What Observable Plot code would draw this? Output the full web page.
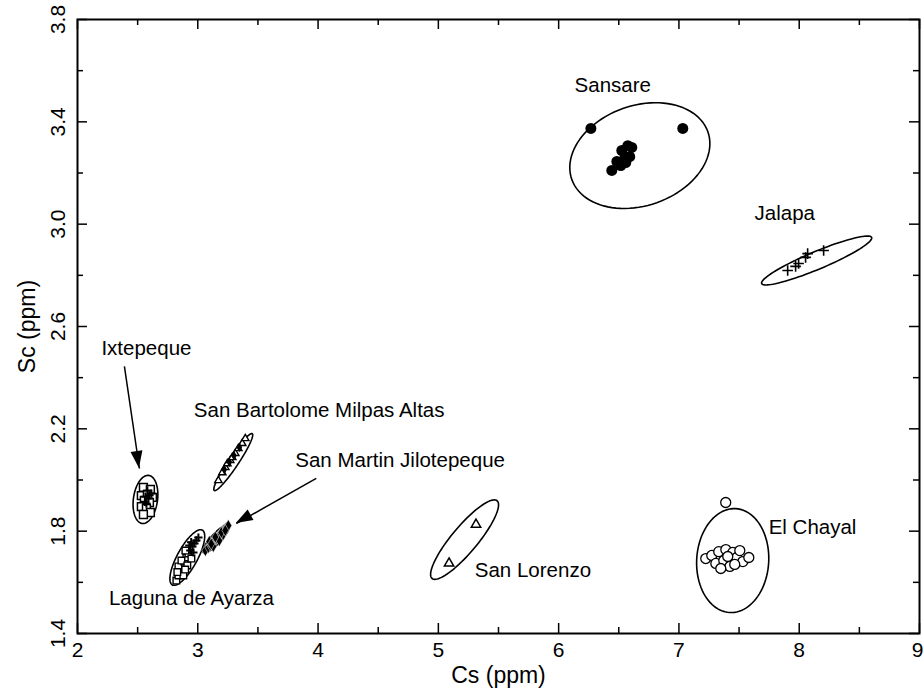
<!DOCTYPE html>
<html><head><meta charset="utf-8">
<script src="https://cdn.jsdelivr.net/npm/d3@7"></script>
<script src="https://cdn.jsdelivr.net/npm/@observablehq/plot@0.6"></script>
<style>body{margin:0;background:#fff}</style>
</head><body><div id="chart"></div>
<script>
// ---- axis ticks ----
const xTicksMajor = [2, 3, 4, 5, 6, 7, 8, 9];
const xTicksMinor = [2.5, 3.5, 4.5, 5.5, 6.5, 7.5, 8.5];
const yTicksMajor = [1.4, 1.8, 2.2, 2.6, 3.0, 3.4, 3.8];
const yTickLabels = ["1.4", "1.8", "2.2", "2.6", "3.0", "3.4", "3.8"];
const yTicksMinor = [1.6, 2.0, 2.4, 2.8, 3.2, 3.6];

// ---- samples: Cs (ppm) and Sc (ppm) ----
const sansareCs = [6.268, 7.032, 6.575, 6.608, 6.525, 6.591, 6.550, 6.484, 6.517, 6.442, 6.558];
const sansareSc = [3.374, 3.374, 3.307, 3.300, 3.288, 3.264, 3.257, 3.245, 3.229, 3.210, 3.241];

const jalapaCs = [7.904, 7.970, 7.995, 8.053, 8.070, 8.203];
const jalapaSc = [2.819, 2.835, 2.846, 2.870, 2.885, 2.897];

const chayalCs = [7.389, 7.223, 7.273, 7.307, 7.331, 7.373, 7.390, 7.423, 7.448, 7.481, 7.506, 7.531, 7.581, 7.348, 7.464, 7.406];
const chayalSc = [1.912, 1.693, 1.705, 1.674, 1.720, 1.685, 1.728, 1.662, 1.717, 1.697, 1.724, 1.681, 1.697, 1.654, 1.670, 1.701];

const lorenzoCs = [5.313, 5.089];
const lorenzoSc = [1.826, 1.674];

const ixtSqCs = [2.548, 2.606, 2.531, 2.581, 2.623, 2.556, 2.598, 2.531, 2.573, 2.606, 2.548];
const ixtSqSc = [1.971, 1.963, 1.939, 1.943, 1.932, 1.920, 1.912, 1.896, 1.889, 1.873, 1.865];
const ixtPlCs = [2.581, 2.565, 2.590, 2.573, 2.614, 2.560, 2.598];
const ixtPlSc = [1.959, 1.935, 1.928, 1.908, 1.947, 1.915, 1.940];

const bartCs = [3.171, 3.204, 3.229, 3.246, 3.270, 3.287, 3.312, 3.337, 3.370, 3.395];
const bartSc = [1.998, 2.029, 2.049, 2.064, 2.076, 2.088, 2.104, 2.123, 2.143, 2.162];
const bartDarkCs = [3.220, 3.262, 3.300, 3.345];
const bartDarkSc = [2.041, 2.070, 2.096, 2.128];

const martinCs = [3.063, 3.088, 3.104, 3.121, 3.138, 3.154, 3.171, 3.187, 3.204, 3.221, 3.237, 3.254, 3.096, 3.179, 3.129, 3.212, 3.112, 3.146, 3.196, 3.229];
const martinSc = [1.724, 1.736, 1.744, 1.756, 1.763, 1.771, 1.779, 1.787, 1.799, 1.807, 1.814, 1.822, 1.760, 1.763, 1.740, 1.787, 1.750, 1.777, 1.795, 1.803];

const lagunaSqCs = [2.822, 2.839, 2.855, 2.872, 2.839, 2.888, 2.905, 2.864, 2.922, 2.897, 2.880, 2.913, 2.947, 2.830, 2.895];
const lagunaSqSc = [1.607, 1.627, 1.646, 1.662, 1.662, 1.681, 1.697, 1.685, 1.713, 1.724, 1.627, 1.666, 1.693, 1.640, 1.650];
const lagunaPlCs = [2.938, 2.955, 2.972, 2.930, 2.988, 3.005, 2.963, 2.945];
const lagunaPlSc = [1.724, 1.740, 1.752, 1.744, 1.764, 1.775, 1.717, 1.757];

// ---- group ellipses: centre and two conjugate semi-axes (data units) ----
const ellName = ["Sansare", "Jalapa", "El Chayal", "San Lorenzo", "Ixtepeque", "San Bartolome", "San Martin", "Laguna"];
const ellCx = [6.675, 8.145, 7.447, 5.218, 2.565, 3.295, 3.154, 2.913];
const ellCy = [3.268, 2.858, 1.685, 1.767, 1.924, 2.070, 1.771, 1.697];
const ellUx = [0.565, 0.457, 0.025, 0.270, 0.025, 0.158, 0.108, 0.125];
const ellUy = [0.094, 0.090, 0.203, 0.152, 0.094, 0.111, 0.055, 0.107];
const ellVx = [0.141, 0.029, 0.299, 0.083, 0.100, 0.035, 0.031, 0.073];
const ellVy = [-0.184, -0.032, -0.008, -0.032, -0.004, -0.011, -0.013, -0.019];

// ---- labels ----
const labelText = ["Sansare", "Jalapa", "Ixtepeque", "San Bartolome Milpas Altas", "San Martin Jilotepeque", "San Lorenzo", "El Chayal", "Laguna de Ayarza"];
const labelCs = [6.45, 7.88, 2.573, 4.009, 4.682, 5.786, 8.111, 2.947];
const labelSc = [3.542, 3.042, 2.514, 2.272, 2.076, 1.646, 1.814, 1.537];

// ---- arrows (tail -> tip) ----
const arrowX1 = [2.390, 3.985];
const arrowY1 = [2.444, 2.006];
const arrowX2 = [2.515, 3.320];
const arrowY2 = [2.045, 1.830];

// ---- build tables ----
const pts = (xs, ys) => xs.map((x, i) => ({x, y: ys[i]}));
const ellPts = [];
ellName.forEach((name, i) => {
  for (let k = 0; k < 96; k++) {
    const t = 2 * Math.PI * k / 96;
    ellPts.push({name,
      x: ellCx[i] + ellUx[i] * Math.cos(t) + ellVx[i] * Math.sin(t),
      y: ellCy[i] + ellUy[i] * Math.cos(t) + ellVy[i] * Math.sin(t)});
  }
});
const labels = labelText.map((t, i) => ({t, x: labelCs[i], y: labelSc[i]}));
const arrows = arrowX1.map((x1, i) => ({x1, y1: arrowY1[i], x2: arrowX2[i], y2: arrowY2[i]}));
const yLab = yTicksMajor.map((v, i) => ({v, t: yTickLabels[i]}));
const xLabInner = xTicksMajor.slice(0, -1);
const xLabLast = xTicksMajor.slice(-1);

const W = 924, H = 692, mL = 77, mR = 5, mT = 19, mB = 59;
const plotW = W - mL - mR, plotH = H - mT - mB;
const majorLen = 10, minorLen = 6;

function arrowHeads(index, scales) {
  const ns = "http://www.w3.org/2000/svg";
  const g = document.createElementNS(ns, "g");
  arrows.forEach(a => {
    const x1 = scales.x(a.x1), y1 = scales.y(a.y1), x2 = scales.x(a.x2), y2 = scales.y(a.y2);
    const L = Math.hypot(x2 - x1, y2 - y1), ux = (x2 - x1) / L, uy = (y2 - y1) / L;
    const len = 17, hw = 6;
    const bx = x2 - ux * len, by = y2 - uy * len;
    const p = document.createElementNS(ns, "path");
    p.setAttribute("d", `M${x2},${y2}L${bx - uy * hw},${by + ux * hw}L${bx + uy * hw},${by - ux * hw}Z`);
    p.setAttribute("fill", "black");
    g.appendChild(p);
  });
  return g;
}

const chart = Plot.plot({
  width: W, height: H,
  marginLeft: mL, marginRight: mR, marginTop: mT, marginBottom: mB,
  x: {domain: [2, 9], axis: null},
  y: {domain: [1.4, 3.8], axis: null},
  style: {fontFamily: "'Liberation Sans', Arial, sans-serif", background: "white", color: "black"},
  marks: [
    // ticks (inward, all four sides)
    Plot.tickX(xTicksMajor, {x: d => d, insetTop: plotH - majorLen, strokeWidth: 1.5}),
    Plot.tickX(xTicksMajor, {x: d => d, insetBottom: plotH - majorLen, strokeWidth: 1.5}),
    Plot.tickX(xTicksMinor, {x: d => d, insetTop: plotH - minorLen, strokeWidth: 1.5}),
    Plot.tickX(xTicksMinor, {x: d => d, insetBottom: plotH - minorLen, strokeWidth: 1.5}),
    Plot.tickY(yTicksMajor, {y: d => d, insetRight: plotW - majorLen, strokeWidth: 1.5}),
    Plot.tickY(yTicksMajor, {y: d => d, insetLeft: plotW - majorLen, strokeWidth: 1.5}),
    Plot.tickY(yTicksMinor, {y: d => d, insetRight: plotW - minorLen, strokeWidth: 1.5}),
    Plot.tickY(yTicksMinor, {y: d => d, insetLeft: plotW - minorLen, strokeWidth: 1.5}),
    Plot.frame({stroke: "black", strokeWidth: 2}),
    // tick labels
    Plot.text(xLabInner, {x: d => d, text: d => String(d), frameAnchor: "bottom", dy: 9, lineAnchor: "top", fontSize: 21}),
    Plot.text(xLabLast, {x: d => d, text: d => String(d), frameAnchor: "bottom", dy: 9, dx: 4, textAnchor: "end", lineAnchor: "top", fontSize: 21}),
    Plot.text(yLab, {y: "v", text: "t", frameAnchor: "left", dx: -13, rotate: -90, textAnchor: "middle", lineAnchor: "bottom", fontSize: 21}),
    // axis titles
    Plot.text(["Cs (ppm)"], {text: d => d, frameAnchor: "bottom", dy: 33, lineAnchor: "top", fontSize: 23}),
    Plot.text(["Sc (ppm)"], {text: d => d, frameAnchor: "left", dx: -50, rotate: -90, textAnchor: "middle", lineAnchor: "middle", fontSize: 23}),
    // ellipses
    Plot.line(ellPts, {x: "x", y: "y", z: "name", stroke: "black", strokeWidth: 1.6, curve: "linear-closed"}),
    // points
    Plot.dot(pts(sansareCs, sansareSc), {x: "x", y: "y", r: 5.5, fill: "black", stroke: "none"}),
    Plot.dot(pts(jalapaCs, jalapaSc), {x: "x", y: "y", symbol: "plus", r: 3.5, stroke: "black", strokeWidth: 1.6}),
    Plot.dot(pts(chayalCs, chayalSc), {x: "x", y: "y", r: 5, fill: "white", stroke: "black", strokeWidth: 1.3}),
    Plot.dot(pts(lorenzoCs, lorenzoSc), {x: "x", y: "y", symbol: "triangle2", r: 4.5, fill: "white", stroke: "black", strokeWidth: 1.5}),
    Plot.dot(pts(ixtSqCs, ixtSqSc), {x: "x", y: "y", symbol: "square2", r: 5, fill: "white", stroke: "black", strokeWidth: 1.5}),
    Plot.dot(pts(ixtPlCs, ixtPlSc), {x: "x", y: "y", symbol: "plus", r: 2.8, stroke: "black", strokeWidth: 2}),
    Plot.dot(pts(bartCs, bartSc), {x: "x", y: "y", symbol: "triangle2", r: 3.5, fill: "white", stroke: "black", strokeWidth: 1.4}),
    Plot.dot(pts(bartDarkCs, bartDarkSc), {x: "x", y: "y", symbol: "diamond", r: 3, fill: "black"}),
    Plot.dot(pts(martinCs, martinSc), {x: "x", y: "y", symbol: "diamond", r: 3.6, fill: "black", stroke: "white", strokeWidth: 0.5}),
    Plot.dot(pts(lagunaSqCs, lagunaSqSc), {x: "x", y: "y", symbol: "square2", r: 4.2, fill: "white", stroke: "black", strokeWidth: 1.4}),
    Plot.dot(pts(lagunaPlCs, lagunaPlSc), {x: "x", y: "y", symbol: "plus", r: 2.8, stroke: "black", strokeWidth: 2}),
    // labels
    Plot.text(labels, {x: "x", y: "y", text: "t", fontSize: 20.5, fill: "black"}),
    // arrows
    Plot.link(arrows, {x1: "x1", y1: "y1", x2: "x2", y2: "y2", stroke: "black", strokeWidth: 1.5}),
    arrowHeads
  ]
});
document.getElementById("chart").appendChild(chart);
</script>
</body></html>
